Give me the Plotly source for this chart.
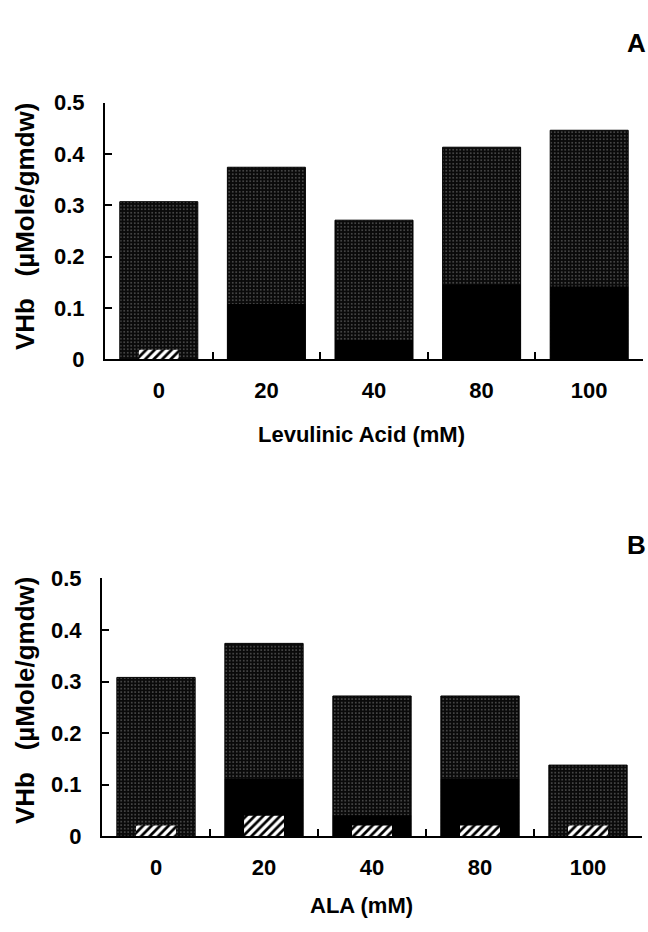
import plotly.graph_objects as go

categories = ["0", "20", "40", "80", "100"]

# Panel A: Levulinic acid
a_total = [0.307, 0.374, 0.271, 0.413, 0.446]
a_black = [0.0, 0.108, 0.038, 0.146, 0.142]
a_hatch = [0.019, 0.0, 0.0, 0.0, 0.0]

# Panel B: ALA
b_total = [0.308, 0.374, 0.272, 0.272, 0.138]
b_black = [0.0, 0.111, 0.041, 0.111, 0.0]
b_hatch = [0.021, 0.040, 0.021, 0.021, 0.021]

y_tickvals = [0, 0.1, 0.2, 0.3, 0.4, 0.5]
y_ticktext = ["0", "0.1", "0.2", "0.3", "0.4", "0.5"]

FONT = "Liberation Sans, Arial, Helvetica, sans-serif"

fig = go.Figure()

def add_panel(total, black, hatch, xa, ya):
    fig.add_trace(go.Bar(
        x=categories, y=total, xaxis=xa, yaxis=ya, width=0.725,
        marker=dict(color="#0a0a0a", line=dict(color="black", width=1),
                    pattern=dict(shape=".", bgcolor="#0a0a0a", fgcolor="#5a5a5a",
                                 size=3.5, solidity=0.18, fillmode="replace")),
        showlegend=False, hoverinfo="skip"))
    fig.add_trace(go.Bar(
        x=categories, y=black, xaxis=xa, yaxis=ya, width=0.725,
        marker=dict(color="#000000", line=dict(color="black", width=0)),
        showlegend=False, hoverinfo="skip"))
    fig.add_trace(go.Bar(
        x=categories, y=hatch, xaxis=xa, yaxis=ya, width=0.37,
        marker=dict(color="white", line=dict(color="white", width=0),
                    pattern=dict(shape="/", bgcolor="white", fgcolor="black",
                                 size=6, solidity=0.45, fillmode="replace")),
        showlegend=False, hoverinfo="skip"))

add_panel(a_total, a_black, a_hatch, "x", "y")
add_panel(b_total, b_black, b_hatch, "x2", "y2")

xcommon = dict(type="category", range=[-0.5, 4.5], showline=True, linecolor="black",
               linewidth=2, ticks="inside", ticklen=7, tickwidth=2, tickcolor="black",
               tickson="boundaries", showgrid=False, zeroline=False,
               tickfont=dict(family=FONT, size=22, color="black", weight="bold"),
               ticklabelstandoff=10, fixedrange=True)
ycommon = dict(range=[0, 0.5], showline=True, linecolor="black", linewidth=2,
               ticks="inside", ticklen=7, tickwidth=2, tickcolor="black",
               tickvals=y_tickvals, ticktext=y_ticktext, showgrid=False, zeroline=False,
               tickfont=dict(family=FONT, size=22, color="black", weight="bold"),
               ticklabelstandoff=14, fixedrange=True)

fig.update_layout(
    width=648, height=932,
    margin=dict(l=0, r=0, t=0, b=0),
    paper_bgcolor="white", plot_bgcolor="white",
    barmode="overlay",
    xaxis=dict(domain=[105/648, 643/648], anchor="y", **xcommon),
    yaxis=dict(domain=[1-357/932, 1-93/932], anchor="x", **ycommon),
    xaxis2=dict(domain=[102/648, 642/648], anchor="y2", **xcommon),
    yaxis2=dict(domain=[1-847/932, 1-582/932], anchor="x2", **ycommon),
)

def ann(text, x, y, size, angle=0):
    fig.add_annotation(text=text, x=x/648, y=1-y/932, xref="paper", yref="paper",
                       showarrow=False, textangle=angle, xanchor="center", yanchor="middle",
                       font=dict(family=FONT, size=size, color="black", weight="bold"))

ytitle = "VHb\u00a0\u00a0\u00a0(\u00b5Mole/gmdw)"
ann(ytitle, 25, 220, 26, -90)
ann(ytitle, 25, 707, 26, -90)
ann("Levulinic Acid (mM)", 361, 434, 22)
ann("ALA (mM)", 361, 918, 22)
ann("A", 636, 32, 26)
ann("B", 636, 548, 26)

fig.write_html("out.html", config={"displayModeBar": False},
               post_script="document.body.style.margin='0';document.body.style.overflow='hidden';")
